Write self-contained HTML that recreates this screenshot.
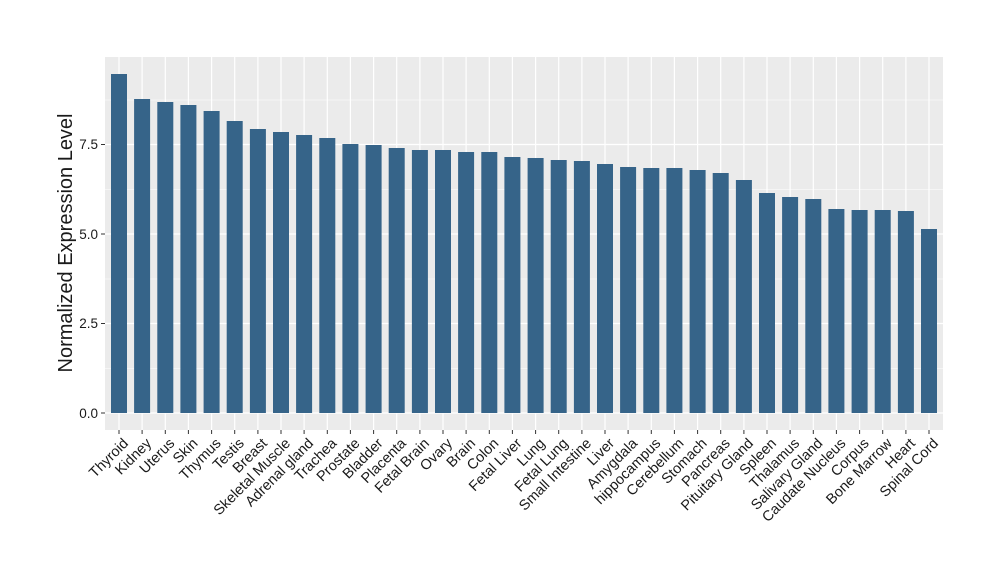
<!DOCTYPE html>
<html><head><meta charset="utf-8"><style>body{margin:0;background:#fff}svg{display:block}text{font-family:"Liberation Sans",sans-serif;fill:#1a1a1a}</style></head><body>
<svg width="1000" height="580" viewBox="0 0 1000 580">
<rect x="105" y="57" width="838" height="373" fill="#ebebeb"/>
<g stroke="#fff" stroke-width="0.6">
<line x1="105" x2="943" y1="368.5" y2="368.5"/><line x1="105" x2="943" y1="279" y2="279"/><line x1="105" x2="943" y1="189.5" y2="189.5"/><line x1="105" x2="943" y1="100" y2="100"/>
</g>
<g stroke="#fff" stroke-width="1.2">
<line x1="105" x2="943" y1="413" y2="413"/><line x1="105" x2="943" y1="323.5" y2="323.5"/><line x1="105" x2="943" y1="234" y2="234"/><line x1="105" x2="943" y1="144.5" y2="144.5"/>
<line x1="119" x2="119" y1="57" y2="430"/><line x1="142.1" x2="142.1" y1="57" y2="430"/><line x1="165.3" x2="165.3" y1="57" y2="430"/><line x1="188.4" x2="188.4" y1="57" y2="430"/><line x1="211.6" x2="211.6" y1="57" y2="430"/><line x1="234.7" x2="234.7" y1="57" y2="430"/><line x1="257.9" x2="257.9" y1="57" y2="430"/><line x1="281" x2="281" y1="57" y2="430"/><line x1="304.1" x2="304.1" y1="57" y2="430"/><line x1="327.3" x2="327.3" y1="57" y2="430"/><line x1="350.4" x2="350.4" y1="57" y2="430"/><line x1="373.6" x2="373.6" y1="57" y2="430"/><line x1="396.7" x2="396.7" y1="57" y2="430"/><line x1="419.9" x2="419.9" y1="57" y2="430"/><line x1="443" x2="443" y1="57" y2="430"/><line x1="466.1" x2="466.1" y1="57" y2="430"/><line x1="489.3" x2="489.3" y1="57" y2="430"/><line x1="512.4" x2="512.4" y1="57" y2="430"/><line x1="535.6" x2="535.6" y1="57" y2="430"/><line x1="558.7" x2="558.7" y1="57" y2="430"/><line x1="581.9" x2="581.9" y1="57" y2="430"/><line x1="605" x2="605" y1="57" y2="430"/><line x1="628.1" x2="628.1" y1="57" y2="430"/><line x1="651.3" x2="651.3" y1="57" y2="430"/><line x1="674.4" x2="674.4" y1="57" y2="430"/><line x1="697.6" x2="697.6" y1="57" y2="430"/><line x1="720.7" x2="720.7" y1="57" y2="430"/><line x1="743.9" x2="743.9" y1="57" y2="430"/><line x1="767" x2="767" y1="57" y2="430"/><line x1="790.1" x2="790.1" y1="57" y2="430"/><line x1="813.3" x2="813.3" y1="57" y2="430"/><line x1="836.4" x2="836.4" y1="57" y2="430"/><line x1="859.6" x2="859.6" y1="57" y2="430"/><line x1="882.7" x2="882.7" y1="57" y2="430"/><line x1="905.9" x2="905.9" y1="57" y2="430"/><line x1="929" x2="929" y1="57" y2="430"/>
</g>
<g fill="#366489">
<rect x="111" y="74" width="16" height="339"/><rect x="134.1" y="99" width="16" height="314"/><rect x="157.3" y="102" width="16" height="311"/><rect x="180.4" y="105" width="16" height="308"/><rect x="203.6" y="111" width="16" height="302"/><rect x="226.7" y="121" width="16" height="292"/><rect x="249.9" y="129" width="16" height="284"/><rect x="273" y="132" width="16" height="281"/><rect x="296.1" y="135" width="16" height="278"/><rect x="319.3" y="138" width="16" height="275"/><rect x="342.4" y="144" width="16" height="269"/><rect x="365.6" y="145" width="16" height="268"/><rect x="388.7" y="148" width="16" height="265"/><rect x="411.9" y="150" width="16" height="263"/><rect x="435" y="150" width="16" height="263"/><rect x="458.1" y="152" width="16" height="261"/><rect x="481.3" y="152" width="16" height="261"/><rect x="504.4" y="157" width="16" height="256"/><rect x="527.6" y="158" width="16" height="255"/><rect x="550.7" y="160" width="16" height="253"/><rect x="573.9" y="161" width="16" height="252"/><rect x="597" y="164" width="16" height="249"/><rect x="620.1" y="167" width="16" height="246"/><rect x="643.3" y="168" width="16" height="245"/><rect x="666.4" y="168" width="16" height="245"/><rect x="689.6" y="170" width="16" height="243"/><rect x="712.7" y="173" width="16" height="240"/><rect x="735.9" y="180" width="16" height="233"/><rect x="759" y="193" width="16" height="220"/><rect x="782.1" y="197" width="16" height="216"/><rect x="805.3" y="199" width="16" height="214"/><rect x="828.4" y="209" width="16" height="204"/><rect x="851.6" y="210" width="16" height="203"/><rect x="874.7" y="210" width="16" height="203"/><rect x="897.9" y="211" width="16" height="202"/><rect x="921" y="229" width="16" height="184"/>
</g>
<g stroke="#333" stroke-width="1">
<line x1="101" x2="105" y1="413" y2="413"/><line x1="101" x2="105" y1="323.5" y2="323.5"/><line x1="101" x2="105" y1="234" y2="234"/><line x1="101" x2="105" y1="144.5" y2="144.5"/>
</g>
<g font-size="13.5" text-anchor="end">
<text x="98" y="418">0.0</text><text x="98" y="328">2.5</text><text x="98" y="239">5.0</text><text x="98" y="149">7.5</text>
</g>
<text transform="translate(72,243) rotate(-90)" font-size="20" text-anchor="middle">Normalized Expression Level</text>
<g font-size="14.5" text-anchor="end">
<text transform="translate(124,439) rotate(-45)" dy="0.5em">Thyroid</text>
<text transform="translate(147.1,439) rotate(-45)" dy="0.5em">Kidney</text>
<text transform="translate(170.3,439) rotate(-45)" dy="0.5em">Uterus</text>
<text transform="translate(193.4,439) rotate(-45)" dy="0.5em">Skin</text>
<text transform="translate(216.6,439) rotate(-45)" dy="0.5em">Thymus</text>
<text transform="translate(239.7,439) rotate(-45)" dy="0.5em">Testis</text>
<text transform="translate(262.9,439) rotate(-45)" dy="0.5em">Breast</text>
<text transform="translate(286,439) rotate(-45)" dy="0.5em">Skeletal Muscle</text>
<text transform="translate(309.1,439) rotate(-45)" dy="0.5em">Adrenal gland</text>
<text transform="translate(332.3,439) rotate(-45)" dy="0.5em">Trachea</text>
<text transform="translate(355.4,439) rotate(-45)" dy="0.5em">Prostate</text>
<text transform="translate(378.6,439) rotate(-45)" dy="0.5em">Bladder</text>
<text transform="translate(401.7,439) rotate(-45)" dy="0.5em">Placenta</text>
<text transform="translate(424.9,439) rotate(-45)" dy="0.5em">Fetal Brain</text>
<text transform="translate(448,439) rotate(-45)" dy="0.5em">Ovary</text>
<text transform="translate(471.1,439) rotate(-45)" dy="0.5em">Brain</text>
<text transform="translate(494.3,439) rotate(-45)" dy="0.5em">Colon</text>
<text transform="translate(517.4,439) rotate(-45)" dy="0.5em">Fetal Liver</text>
<text transform="translate(540.6,439) rotate(-45)" dy="0.5em">Lung</text>
<text transform="translate(563.7,439) rotate(-45)" dy="0.5em">Fetal Lung</text>
<text transform="translate(586.9,439) rotate(-45)" dy="0.5em">Small Intestine</text>
<text transform="translate(610,439) rotate(-45)" dy="0.5em">Liver</text>
<text transform="translate(633.1,439) rotate(-45)" dy="0.5em">Amygdala</text>
<text transform="translate(656.3,439) rotate(-45)" dy="0.5em">hippocampus</text>
<text transform="translate(679.4,439) rotate(-45)" dy="0.5em">Cerebellum</text>
<text transform="translate(702.6,439) rotate(-45)" dy="0.5em">Stomach</text>
<text transform="translate(725.7,439) rotate(-45)" dy="0.5em">Pancreas</text>
<text transform="translate(748.9,439) rotate(-45)" dy="0.5em">Pituitary Gland</text>
<text transform="translate(772,439) rotate(-45)" dy="0.5em">Spleen</text>
<text transform="translate(795.1,439) rotate(-45)" dy="0.5em">Thalamus</text>
<text transform="translate(818.3,439) rotate(-45)" dy="0.5em">Salivary Gland</text>
<text transform="translate(841.4,439) rotate(-45)" dy="0.5em">Caudate Nucleus</text>
<text transform="translate(864.6,439) rotate(-45)" dy="0.5em">Corpus</text>
<text transform="translate(887.7,439) rotate(-45)" dy="0.5em">Bone Marrow</text>
<text transform="translate(910.9,439) rotate(-45)" dy="0.5em">Heart</text>
<text transform="translate(934,439) rotate(-45)" dy="0.5em">Spinal Cord</text>
</g>
<g stroke="#333" stroke-width="1">
<line x1="119" x2="119" y1="430" y2="434"/><line x1="142.1" x2="142.1" y1="430" y2="434"/><line x1="165.3" x2="165.3" y1="430" y2="434"/><line x1="188.4" x2="188.4" y1="430" y2="434"/><line x1="211.6" x2="211.6" y1="430" y2="434"/><line x1="234.7" x2="234.7" y1="430" y2="434"/><line x1="257.9" x2="257.9" y1="430" y2="434"/><line x1="281" x2="281" y1="430" y2="434"/><line x1="304.1" x2="304.1" y1="430" y2="434"/><line x1="327.3" x2="327.3" y1="430" y2="434"/><line x1="350.4" x2="350.4" y1="430" y2="434"/><line x1="373.6" x2="373.6" y1="430" y2="434"/><line x1="396.7" x2="396.7" y1="430" y2="434"/><line x1="419.9" x2="419.9" y1="430" y2="434"/><line x1="443" x2="443" y1="430" y2="434"/><line x1="466.1" x2="466.1" y1="430" y2="434"/><line x1="489.3" x2="489.3" y1="430" y2="434"/><line x1="512.4" x2="512.4" y1="430" y2="434"/><line x1="535.6" x2="535.6" y1="430" y2="434"/><line x1="558.7" x2="558.7" y1="430" y2="434"/><line x1="581.9" x2="581.9" y1="430" y2="434"/><line x1="605" x2="605" y1="430" y2="434"/><line x1="628.1" x2="628.1" y1="430" y2="434"/><line x1="651.3" x2="651.3" y1="430" y2="434"/><line x1="674.4" x2="674.4" y1="430" y2="434"/><line x1="697.6" x2="697.6" y1="430" y2="434"/><line x1="720.7" x2="720.7" y1="430" y2="434"/><line x1="743.9" x2="743.9" y1="430" y2="434"/><line x1="767" x2="767" y1="430" y2="434"/><line x1="790.1" x2="790.1" y1="430" y2="434"/><line x1="813.3" x2="813.3" y1="430" y2="434"/><line x1="836.4" x2="836.4" y1="430" y2="434"/><line x1="859.6" x2="859.6" y1="430" y2="434"/><line x1="882.7" x2="882.7" y1="430" y2="434"/><line x1="905.9" x2="905.9" y1="430" y2="434"/><line x1="929" x2="929" y1="430" y2="434"/>
</g>
</svg>
</body></html>
